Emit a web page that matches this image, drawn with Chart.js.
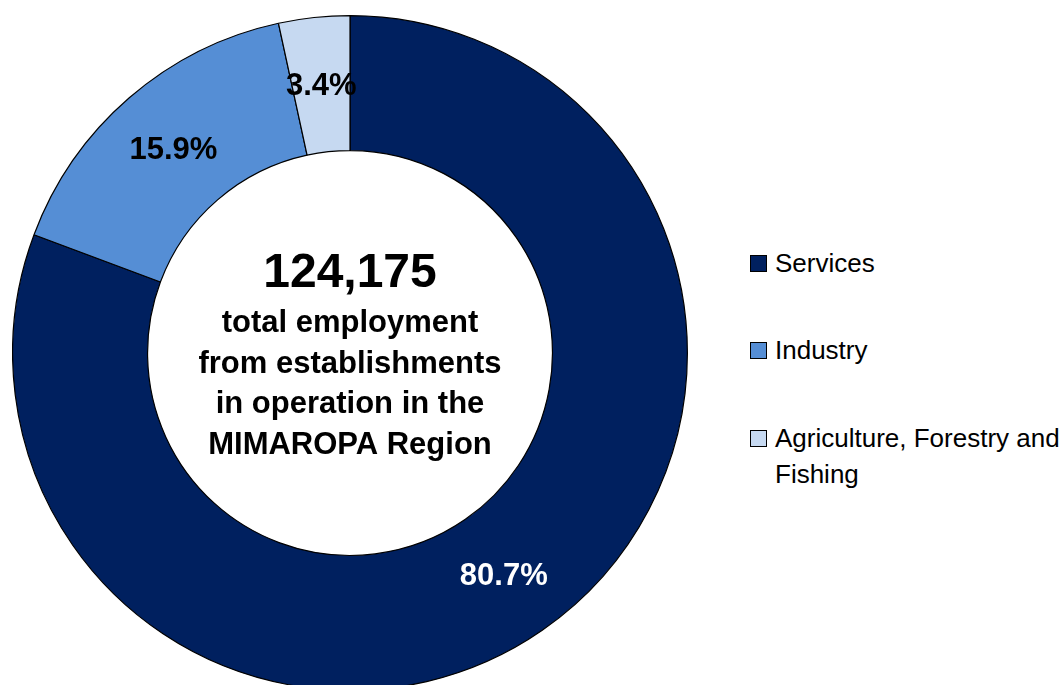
<!DOCTYPE html>
<html>
<head>
<meta charset="utf-8">
<script src="https://cdn.jsdelivr.net/npm/chart.js@4.4.1/dist/chart.umd.min.js"></script>
<style>
  html, body { margin: 0; padding: 0; background: #fff; overflow: hidden; }
  body { width: 1063px; height: 685px; position: relative; font-family: 'Liberation Sans', Arial, sans-serif; }
  #wrap { position: absolute; left: 12px; top: 15px; width: 676px; height: 676px; }
  #leyenda { position: absolute; left: 750px; top: 0; }
  .item { position: absolute; left: 0; width: 310px; font-size: 26px; line-height: 36px; color: #000; }
  .caja { position: absolute; left: 0; top: 10px; width: 15px; height: 15px; border: 1.5px solid #000; }
  .texto { margin-left: 25px; width: 288px; }
</style>
</head>
<body>
<div id="wrap"><canvas id="grafico"></canvas></div>
<div id="leyenda"></div>
<script>
// Datos del gráfico
const categorias = ['Services', 'Industry', 'Agriculture, Forestry and Fishing'];
const porcentajes = [80.7, 15.9, 3.4];
const colores = ['#00205f', '#558ed5', '#c6d9f1'];
const coloresEtiqueta = ['#ffffff', '#000000', '#000000'];
const totalEmpleo = '124,175';
const lineasCentro = ['total employment', 'from establishments', 'in operation in the', 'MIMAROPA Region'];
const posLeyenda = [245, 332, 420]; // top de cada item

// Etiquetas de porcentaje sobre cada sector
const etiquetas = {
    id: 'etiquetas',
    afterDatasetsDraw(chart) {
        const ctx = chart.ctx;
        const meta = chart.getDatasetMeta(0);
        ctx.save();
        ctx.font = 'bold 31px "Liberation Sans", Arial, sans-serif';
        ctx.textAlign = 'center';
        ctx.textBaseline = 'middle';
        meta.data.forEach(function(arco, i) {
            const p = arco.getCenterPoint();
            ctx.fillStyle = coloresEtiqueta[i];
            ctx.fillText(porcentajes[i].toFixed(1) + '%', p.x, p.y + 2);
        });
        ctx.restore();
    }
};

// Texto en el centro de la dona
const textoCentro = {
    id: 'textoCentro',
    afterDraw(chart) {
        const ctx = chart.ctx;
        const arco = chart.getDatasetMeta(0).data[0];
        const cx = arco.x, cy = arco.y;
        ctx.save();
        ctx.fillStyle = '#000';
        ctx.textAlign = 'center';
        ctx.textBaseline = 'alphabetic';
        ctx.font = 'bold 48px "Liberation Sans", Arial, sans-serif';
        ctx.fillText(totalEmpleo, cx, cy - 66);
        ctx.font = 'bold 31px "Liberation Sans", Arial, sans-serif';
        lineasCentro.forEach(function(linea, i) {
            ctx.fillText(linea, cx, cy - 21 + i * 40.5);
        });
        ctx.restore();
    }
};

new Chart(document.getElementById('grafico'), {
    type: 'doughnut',
    data: {
        labels: categorias,
        datasets: [{
            data: porcentajes,
            backgroundColor: colores,
            borderColor: '#000000',
            borderWidth: 1.2,
            borderAlign: 'center'
        }]
    },
    options: {
        responsive: true,
        maintainAspectRatio: false,
        animation: false,
        cutout: '60%',
        layout: { padding: 0 },
        plugins: {
            legend: { display: false },
            tooltip: { enabled: false }
        }
    },
    plugins: [etiquetas, textoCentro]
});

// Leyenda a la derecha
const leyenda = document.getElementById('leyenda');
categorias.forEach(function(cat, i) {
    const item = document.createElement('div');
    item.className = 'item';
    item.style.top = posLeyenda[i] + 'px';
    item.innerHTML = '<div class="caja" style="background:' + colores[i] + '"></div><div class="texto">' + cat + '</div>';
    leyenda.appendChild(item);
});
</script>
</body>
</html>
